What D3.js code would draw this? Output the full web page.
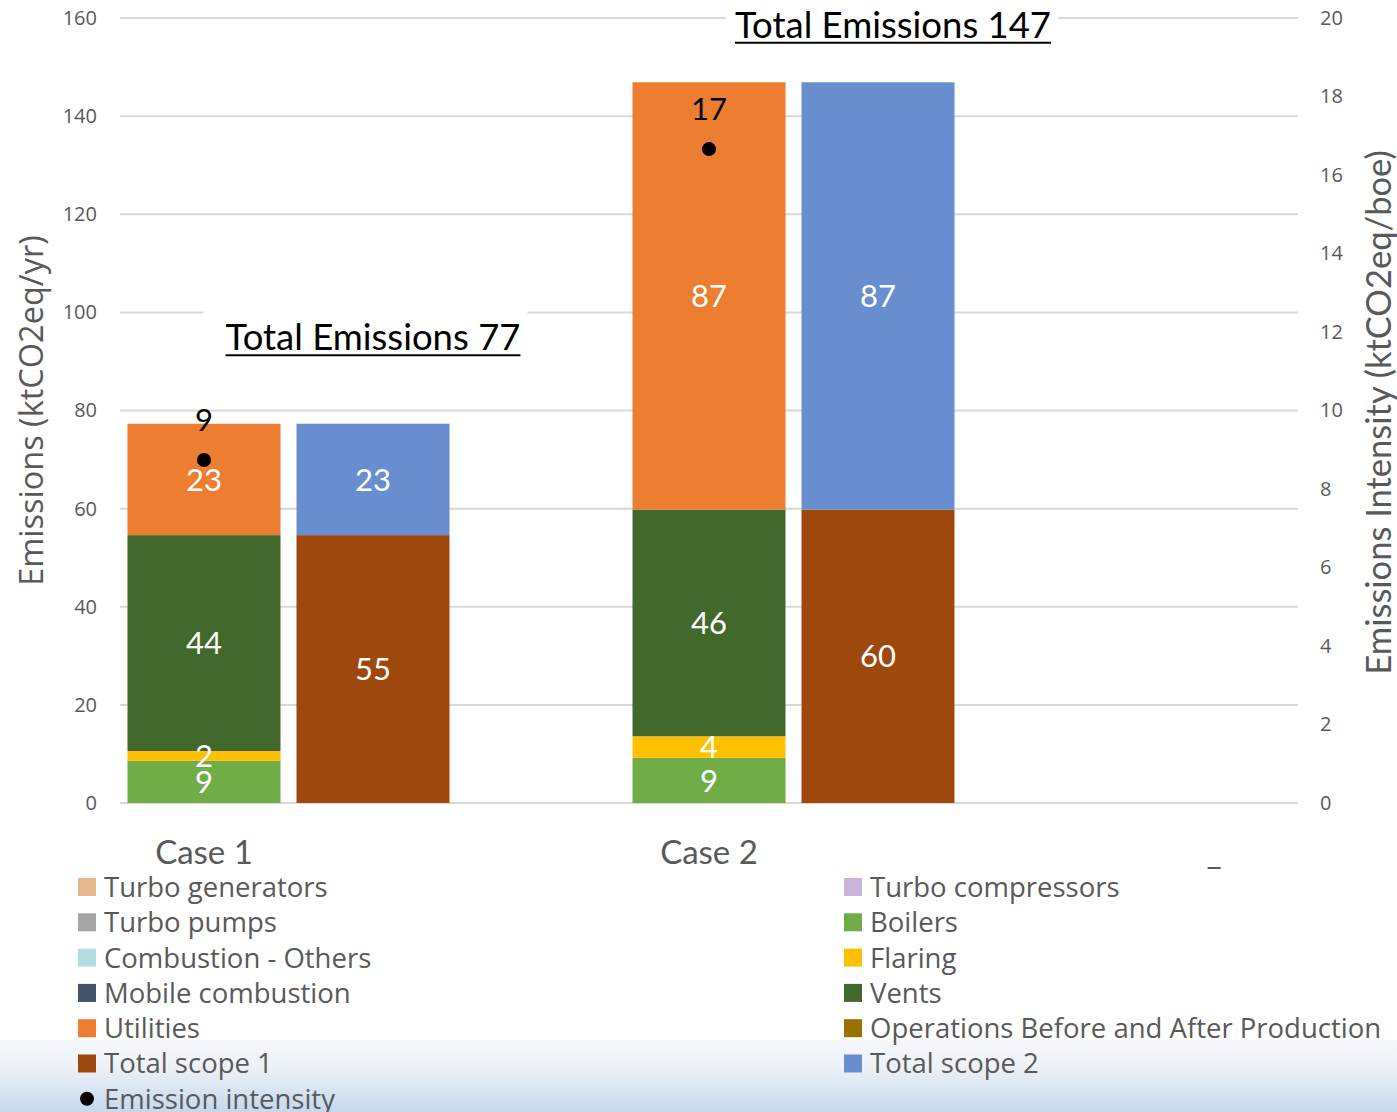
<!DOCTYPE html>
<html>
<head>
<meta charset="utf-8">
<script src="https://cdn.jsdelivr.net/npm/d3@7"></script>
<style>
  html, body { margin: 0; padding: 0; background: #fff; }
  svg { display: block; }
</style>
</head>
<body>
<svg id="chart" width="1397" height="1112"></svg>
<script>
// ---- data -----------------------------------------------------------
const cases = ["Case 1", "Case 2", "_"];

// emission sources (stacked, ktCO2eq/yr)
const turboGenerators   = [0, 0, 0];
const turboCompressors  = [0, 0, 0];
const turboPumps        = [0, 0, 0];
const boilers           = [8.6, 9.2, 0];
const combustionOthers  = [0, 0, 0];
const flaring           = [2.0, 4.4, 0];
const mobileCombustion  = [0.2, 0, 0];
const vents             = [43.8, 46.2, 0];
const utilities         = [22.7, 87.1, 0];
const operationsBA      = [0, 0, 0];

// scope split (stacked, ktCO2eq/yr)
const totalScope1 = [54.6, 59.8, 0];
const totalScope2 = [22.7, 87.1, 0];

// emission intensity (ktCO2eq/boe, right axis)
const emissionIntensity = [8.74, 16.66, null];

const leftTicks  = [0, 20, 40, 60, 80, 100, 120, 140, 160];
const rightTicks = [0, 2, 4, 6, 8, 10, 12, 14, 16, 18, 20];

// ---- series definitions ---------------------------------------------
const sourceSeries = [
  { name: "Turbo generators",     values: turboGenerators,  color: "#e7b78e" },
  { name: "Turbo compressors",    values: turboCompressors, color: "#cbb4da" },
  { name: "Turbo pumps",          values: turboPumps,       color: "#a5a5a5" },
  { name: "Boilers",              values: boilers,          color: "#70ad47" },
  { name: "Combustion - Others",  values: combustionOthers, color: "#b3dde2" },
  { name: "Flaring",              values: flaring,          color: "#ffc000" },
  { name: "Mobile combustion",    values: mobileCombustion, color: "#44546a" },
  { name: "Vents",                values: vents,            color: "#43682b" },
  { name: "Utilities",            values: utilities,        color: "#ed7d31" },
  { name: "Operations Before and After Production", values: operationsBA, color: "#997300" }
];
const scopeSeries = [
  { name: "Total scope 1", values: totalScope1, color: "#9e480e" },
  { name: "Total scope 2", values: totalScope2, color: "#698ed0" }
];

// ---- layout ---------------------------------------------------------
const svg = d3.select("#chart");
const W = 1397, H = 1112;
const plotLeft = 120, plotRight = 1298, plotTop = 18, plotBottom = 803;
const catStep = 505;

const FONT_NARROW = "Lato, 'Liberation Sans', sans-serif";
const FONT_UI = "'Open Sans', 'DejaVu Sans', sans-serif";
const GREY = "#595959";

const y  = d3.scaleLinear().domain([0, 160]).range([plotBottom, plotTop]);
const yR = d3.scaleLinear().domain([0, 20]).range([plotBottom, plotTop]);
const x  = d3.scaleBand().domain(cases).range([plotLeft, plotLeft + catStep * cases.length]);
const xSub = d3.scaleBand().domain(["sources", "scopes"]).range([0, 337])
  .paddingInner(0.0947).paddingOuter(0.0444);
const bw = xSub.bandwidth();
const fmt = d3.format(".0f");

// soft band behind the lower legend rows
const defs = svg.append("defs");
const grad = defs.append("linearGradient").attr("id", "band")
  .attr("x1", 0).attr("y1", 0).attr("x2", 0).attr("y2", 1);
grad.append("stop").attr("offset", "0%").attr("stop-color", "#f5f7fb");
grad.append("stop").attr("offset", "35%").attr("stop-color", "#eef2f8");
grad.append("stop").attr("offset", "100%").attr("stop-color", "#c6d8ec");
svg.append("rect").attr("x", 0).attr("y", 1040).attr("width", W).attr("height", H - 1040)
  .attr("fill", "url(#band)");

// ---- gridlines ------------------------------------------------------
svg.append("g").selectAll("line").data(leftTicks).join("line")
  .attr("x1", plotLeft).attr("x2", plotRight)
  .attr("y1", d => y(d)).attr("y2", d => y(d))
  .attr("stroke", "#d9d9d9").attr("stroke-width", 2);

// ---- axes -----------------------------------------------------------
const leftAxis = svg.append("g").attr("transform", `translate(${plotLeft},0)`)
  .call(d3.axisLeft(y).tickValues(leftTicks).tickSize(0).tickPadding(23));
const rightAxis = svg.append("g").attr("transform", `translate(${plotRight},0)`)
  .call(d3.axisRight(yR).tickValues(rightTicks).tickSize(0).tickPadding(22));
[leftAxis, rightAxis].forEach(g => {
  g.select(".domain").remove();
  g.selectAll("text").attr("fill", GREY).style("font-family", FONT_UI).style("font-size", "20px");
});

svg.append("text")
  .attr("transform", `translate(43,${(plotTop + plotBottom) / 2}) rotate(-90)`)
  .attr("text-anchor", "middle")
  .attr("fill", GREY).style("font-family", FONT_UI).style("font-size", "32.5px")
  .text("Emissions (ktCO2eq/yr)");
svg.append("text")
  .attr("transform", `translate(1391,${(plotTop + plotBottom) / 2 + 2}) rotate(-90)`)
  .attr("text-anchor", "middle")
  .attr("fill", GREY).style("font-family", FONT_NARROW).style("font-size", "34.5px")
  .text("Emissions Intensity (ktCO2eq/boe)");

// category labels under the source bars
svg.append("g").selectAll("text").data(cases).join("text")
  .attr("x", d => x(d) + xSub("sources") + bw / 2)
  .attr("y", 864)
  .attr("text-anchor", "middle")
  .attr("fill", GREY).style("font-family", FONT_NARROW).style("font-size", "33px")
  .text(d => d);

// ---- stacked bars ---------------------------------------------------
function drawStack(series, slot) {
  const rows = cases.map((c, i) => {
    const r = { case: c };
    series.forEach(s => { r[s.name] = s.values[i]; });
    return r;
  });
  const stacked = d3.stack().keys(series.map(s => s.name))(rows);
  const g = svg.append("g");
  stacked.forEach((layer, li) => {
    const s = series[li];
    g.append("g").selectAll("rect").data(layer.filter(d => d[1] - d[0] > 0)).join("rect")
      .attr("x", d => x(d.data.case) + xSub(slot))
      .attr("width", bw)
      .attr("y", d => y(d[1]))
      .attr("height", d => y(d[0]) - y(d[1]))
      .attr("fill", s.color);
  });
  stacked.forEach(layer => {
    g.append("g").selectAll("text").data(layer.filter(d => d[1] - d[0] >= 1)).join("text")
      .attr("x", d => x(d.data.case) + xSub(slot) + bw / 2)
      .attr("y", d => (y(d[0]) + y(d[1])) / 2)
      .attr("dy", "0.36em")
      .attr("text-anchor", "middle")
      .attr("fill", "#ffffff").style("font-family", FONT_NARROW).style("font-size", "31px")
      .text(d => fmt(d[1] - d[0]));
  });
}
drawStack(sourceSeries, "sources");
drawStack(scopeSeries, "scopes");

// ---- emission intensity points --------------------------------------
const pts = cases.map((c, i) => ({ case: c, v: emissionIntensity[i] })).filter(d => d.v != null);
svg.append("g").selectAll("circle").data(pts).join("circle")
  .attr("cx", d => x(d.case) + xSub("sources") + bw / 2)
  .attr("cy", d => yR(d.v))
  .attr("r", 7).attr("fill", "#000");
svg.append("g").selectAll("text").data(pts).join("text")
  .attr("x", d => x(d.case) + xSub("sources") + bw / 2)
  .attr("y", d => yR(d.v) - 40)
  .attr("dy", "0.36em")
  .attr("text-anchor", "middle")
  .attr("fill", "#000").style("font-family", FONT_NARROW).style("font-size", "31px")
  .text(d => fmt(d.v));

// ---- total emissions callouts ---------------------------------------
const totalLabelY  = [92.3, 156];   // baseline, in left-axis units
const totalLabelDx = [0, 15];
const calloutPadL  = [22, 9];
const calloutPadR  = [7, 7];
const totals = cases.slice(0, 2).map((c, i) => ({
  case: c, total: totalScope1[i] + totalScope2[i], ly: totalLabelY[i], dx: totalLabelDx[i],
  padL: calloutPadL[i], padR: calloutPadR[i]
}));
const callouts = svg.append("g").selectAll("g").data(totals).join("g")
  .attr("transform", d => `translate(${x(d.case) + xSub("scopes") + bw / 2 + d.dx},${y(d.ly)})`);
const boxes = callouts.append("rect")
  .attr("y", -46).attr("height", 62)
  .attr("fill", "#fff");
callouts.append("text")
  .attr("text-anchor", "middle")
  .attr("fill", "#000").style("font-family", FONT_NARROW).style("font-size", "36.5px")
  .text(d => "Total Emissions " + fmt(d.total));
callouts.append("line")
  .attr("y1", 5).attr("y2", 5)
  .attr("stroke", "#000").attr("stroke-width", 2);
// size the underline and backing box to the measured text
callouts.each(function(d) {
  const g = d3.select(this);
  const w = g.select("text").node().getComputedTextLength();
  g.select("line").attr("x1", -w / 2).attr("x2", w / 2);
  g.select("rect").attr("x", -w / 2 - d.padL).attr("width", w + d.padL + d.padR);
});

// ---- legend ---------------------------------------------------------
const legendItems = [
  { name: "Turbo generators",   color: "#e7b78e" },
  { name: "Turbo compressors",  color: "#cbb4da" },
  { name: "Turbo pumps",        color: "#a5a5a5" },
  { name: "Boilers",            color: "#70ad47" },
  { name: "Combustion - Others", color: "#b3dde2" },
  { name: "Flaring",            color: "#ffc000" },
  { name: "Mobile combustion",  color: "#44546a" },
  { name: "Vents",              color: "#43682b" },
  { name: "Utilities",          color: "#ed7d31" },
  { name: "Operations Before and After Production", color: "#997300" },
  { name: "Total scope 1",      color: "#9e480e" },
  { name: "Total scope 2",      color: "#698ed0" },
  { name: "Emission intensity", color: "#000", dot: true }
];
const colX = [78, 844];
const rowY0 = 887, rowStep = 35.3;
const lg = svg.append("g").selectAll("g").data(legendItems).join("g")
  .attr("transform", (d, i) => `translate(${colX[i % 2]},${rowY0 + Math.floor(i / 2) * rowStep})`);
lg.filter(d => !d.dot).append("rect")
  .attr("x", 0).attr("y", -9).attr("width", 18).attr("height", 18).attr("fill", d => d.color);
lg.filter(d => d.dot).append("circle")
  .attr("cx", 9).attr("cy", 0).attr("r", 7).attr("fill", "#000");
lg.append("text")
  .attr("x", 26).attr("dy", "0.36em")
  .attr("fill", GREY).style("font-family", FONT_UI).style("font-size", "27.5px")
  .text(d => d.name);
</script>
</body>
</html>
